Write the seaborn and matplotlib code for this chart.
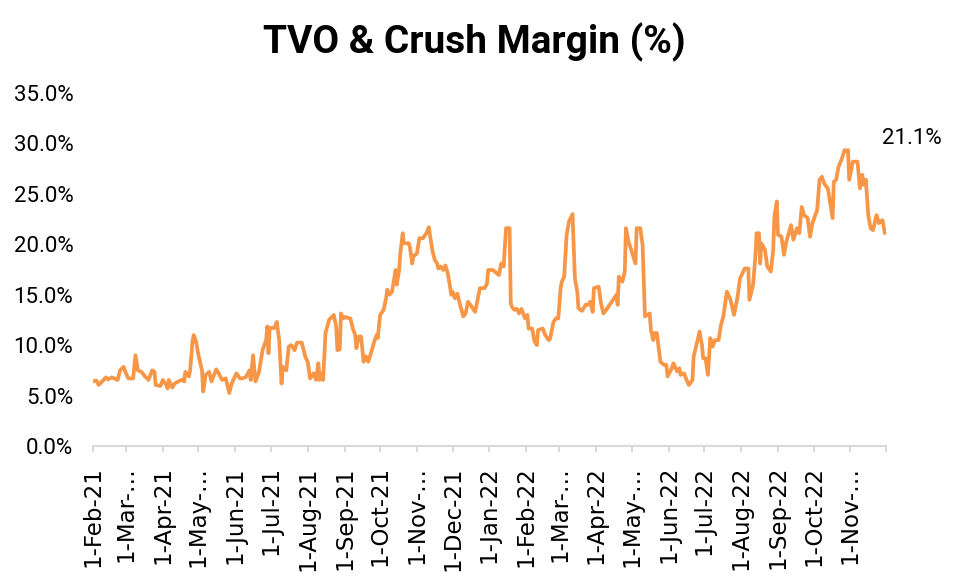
import matplotlib
matplotlib.use("Agg")
import matplotlib.pyplot as plt
import pandas as pd
import seaborn as sns

# TVO & crush margin, % (observation dates and values)
dates = [
    "2021-02-01", "2021-02-04", "2021-02-06", "2021-02-09", "2021-02-12", "2021-02-14", "2021-02-17",
    "2021-02-19", "2021-02-22", "2021-02-24", "2021-02-27", "2021-03-01", "2021-03-03", "2021-03-07",
    "2021-03-09", "2021-03-11", "2021-03-14", "2021-03-17", "2021-03-20", "2021-03-23", "2021-03-25",
    "2021-03-26", "2021-03-30", "2021-04-01", "2021-04-04", "2021-04-05", "2021-04-06", "2021-04-09",
    "2021-04-11", "2021-04-15", "2021-04-18", "2021-04-19", "2021-04-20", "2021-04-23", "2021-04-24",
    "2021-04-26", "2021-04-27", "2021-04-29", "2021-05-01", "2021-05-04", "2021-05-05", "2021-05-07",
    "2021-05-10", "2021-05-12", "2021-05-16", "2021-05-18", "2021-05-21", "2021-05-24", "2021-05-27",
    "2021-05-29", "2021-06-02", "2021-06-05", "2021-06-07", "2021-06-10", "2021-06-13", "2021-06-14",
    "2021-06-16", "2021-06-18", "2021-06-21", "2021-06-24", "2021-06-27", "2021-06-28", "2021-06-29",
    "2021-06-30", "2021-07-04", "2021-07-06", "2021-07-08", "2021-07-10", "2021-07-11", "2021-07-14",
    "2021-07-16", "2021-07-18", "2021-07-21", "2021-07-23", "2021-07-27", "2021-07-30", "2021-08-01",
    "2021-08-03", "2021-08-06", "2021-08-08", "2021-08-10", "2021-08-11", "2021-08-13", "2021-08-14",
    "2021-08-16", "2021-08-19", "2021-08-23", "2021-08-25", "2021-08-26", "2021-08-28", "2021-08-29",
    "2021-08-31", "2021-09-02", "2021-09-05", "2021-09-06", "2021-09-08", "2021-09-10", "2021-09-11",
    "2021-09-13", "2021-09-15", "2021-09-17", "2021-09-19", "2021-09-21", "2021-09-24", "2021-09-26",
    "2021-09-28", "2021-09-29", "2021-10-01", "2021-10-04", "2021-10-06", "2021-10-07", "2021-10-09",
    "2021-10-11", "2021-10-14", "2021-10-15", "2021-10-17", "2021-10-18", "2021-10-20", "2021-10-21",
    "2021-10-25", "2021-10-26", "2021-10-28", "2021-10-29", "2021-11-01", "2021-11-03", "2021-11-06",
    "2021-11-09", "2021-11-11", "2021-11-12", "2021-11-14", "2021-11-16", "2021-11-18", "2021-11-19",
    "2021-11-21", "2021-11-23", "2021-11-25", "2021-11-27", "2021-11-30", "2021-12-01", "2021-12-03",
    "2021-12-05", "2021-12-07", "2021-12-10", "2021-12-12", "2021-12-14", "2021-12-16", "2021-12-20",
    "2021-12-22", "2021-12-24", "2021-12-28", "2021-12-30", "2021-12-31", "2022-01-04", "2022-01-09",
    "2022-01-11", "2022-01-13", "2022-01-15", "2022-01-18", "2022-01-19", "2022-01-20", "2022-01-22",
    "2022-01-24", "2022-01-26", "2022-01-28", "2022-01-31", "2022-02-02", "2022-02-03", "2022-02-06",
    "2022-02-08", "2022-02-10", "2022-02-11", "2022-02-15", "2022-02-17", "2022-02-20", "2022-02-21",
    "2022-02-24", "2022-02-26", "2022-02-28", "2022-03-02", "2022-03-03", "2022-03-05", "2022-03-07",
    "2022-03-09", "2022-03-12", "2022-03-14", "2022-03-16", "2022-03-17", "2022-03-20", "2022-03-23",
    "2022-03-25", "2022-03-27", "2022-03-29", "2022-03-30", "2022-04-03", "2022-04-05", "2022-04-07",
    "2022-04-10", "2022-04-14", "2022-04-18", "2022-04-19", "2022-04-20", "2022-04-23", "2022-04-25",
    "2022-04-26", "2022-04-28", "2022-04-30", "2022-05-04", "2022-05-05", "2022-05-08", "2022-05-10",
    "2022-05-12", "2022-05-14", "2022-05-16", "2022-05-17", "2022-05-19", "2022-05-20", "2022-05-22",
    "2022-05-25", "2022-05-28", "2022-05-30", "2022-05-31", "2022-06-03", "2022-06-05", "2022-06-08",
    "2022-06-10", "2022-06-11", "2022-06-14", "2022-06-16", "2022-06-18", "2022-06-21", "2022-06-22",
    "2022-06-24", "2022-06-27", "2022-06-29", "2022-06-30", "2022-07-02", "2022-07-04", "2022-07-06",
    "2022-07-08", "2022-07-10", "2022-07-13", "2022-07-15", "2022-07-17", "2022-07-20", "2022-07-23",
    "2022-07-26", "2022-07-29", "2022-07-31", "2022-08-04", "2022-08-07", "2022-08-08", "2022-08-11",
    "2022-08-13", "2022-08-14", "2022-08-16", "2022-08-17", "2022-08-18", "2022-08-21", "2022-08-23",
    "2022-08-26", "2022-08-28", "2022-08-29", "2022-08-31", "2022-09-01", "2022-09-04", "2022-09-06",
    "2022-09-08", "2022-09-12", "2022-09-14", "2022-09-17", "2022-09-19", "2022-09-21", "2022-09-23",
    "2022-09-26", "2022-09-28", "2022-09-30", "2022-10-04", "2022-10-06", "2022-10-08", "2022-10-10",
    "2022-10-13", "2022-10-15", "2022-10-17", "2022-10-18", "2022-10-20", "2022-10-22", "2022-10-25",
    "2022-10-27", "2022-10-29", "2022-10-30", "2022-10-31", "2022-11-03", "2022-11-06", "2022-11-07",
    "2022-11-09", "2022-11-11", "2022-11-12", "2022-11-14", "2022-11-16", "2022-11-18", "2022-11-20",
    "2022-11-23", "2022-11-25", "2022-11-28", "2022-11-30",
]

margin_pct = [
    6.4, 6.5, 6.05, 6.4, 6.8, 6.6, 6.8,
    6.7, 6.55, 7.5, 7.85, 7.2, 6.7, 6.7,
    9.0, 7.5, 7.35, 6.9, 6.55, 7.5, 7.35,
    6.05, 5.95, 6.55, 6.05, 5.7, 6.55, 5.8,
    6.2, 6.45, 6.6, 6.4, 7.35, 6.9, 7.5,
    10.35, 11.0, 10.35, 9.0, 7.5, 5.4, 7.05,
    7.35, 6.4, 7.6, 7.2, 6.55, 6.7, 5.25,
    6.2, 7.2, 6.7, 6.7, 6.85, 7.5, 6.55,
    9.0, 6.4, 7.35, 9.5, 10.5, 11.85, 9.2,
    11.7, 11.7, 12.3, 10.5, 6.2, 7.85, 7.5,
    9.85, 10.0, 9.5, 10.25, 10.25, 8.85, 8.35,
    6.7, 7.2, 6.55, 8.2, 6.55, 7.2, 6.55,
    11.2, 12.5, 13.0, 11.85, 9.5, 9.6, 13.15,
    12.65, 12.8, 12.65, 12.65, 11.65, 11.0, 9.7,
    10.85, 10.85, 8.35, 8.9, 8.35, 9.5, 10.35,
    11.0, 10.7, 13.0, 13.5, 14.65, 15.5, 15.0,
    15.3, 17.45, 16.0, 17.45, 19.1, 21.1, 20.1,
    20.1, 19.8, 18.1, 18.8, 19.1, 20.6, 20.6,
    21.1, 21.7, 20.9, 19.4, 18.45, 18.1, 17.6,
    17.8, 17.45, 17.9, 17.1, 15.0, 15.3, 14.65,
    15.1, 14.15, 12.85, 13.15, 14.3, 14.0, 13.3,
    14.5, 15.65, 15.65, 16.1, 17.45, 17.45, 16.95,
    18.1, 17.8, 21.6, 21.6, 14.15, 13.8, 13.5,
    13.6, 13.15, 13.6, 12.65, 13.0, 11.65, 11.65,
    10.35, 10.0, 11.5, 11.65, 11.0, 10.5, 10.6,
    12.3, 12.65, 12.65, 15.65, 16.3, 16.8, 20.9,
    22.25, 23.0, 16.6, 15.3, 13.65, 13.4, 14.0,
    14.0, 14.3, 13.3, 15.65, 15.8, 14.15, 13.15,
    13.6, 14.3, 15.0, 14.0, 16.8, 16.3, 17.3,
    21.6, 20.3, 19.6, 18.1, 21.6, 21.6, 19.95,
    12.85, 13.0, 13.15, 11.5, 10.5, 11.2, 11.2,
    8.35, 8.05, 8.05, 6.9, 7.55, 8.2, 7.4,
    7.7, 7.05, 7.2, 6.55, 6.05, 6.55, 8.85,
    9.85, 11.35, 10.0, 8.7, 8.7, 7.05, 10.7,
    9.85, 10.5, 10.5, 12.0, 12.85, 15.3, 14.5,
    13.0, 14.8, 16.6, 17.6, 17.6, 14.5, 16.0,
    18.8, 21.1, 21.1, 18.1, 20.1, 19.45, 17.8,
    17.3, 19.45, 22.75, 24.25, 20.95, 20.75, 18.95,
    20.25, 21.9, 20.45, 21.6, 21.1, 23.7, 22.9,
    22.6, 20.75, 22.1, 23.4, 26.4, 26.7, 26.0,
    25.55, 24.1, 22.6, 26.2, 26.4, 27.7, 28.55,
    29.35, 29.2, 29.35, 26.4, 28.2, 28.2, 28.2,
    25.55, 26.9, 25.9, 26.4, 22.9, 21.6, 21.4,
    22.9, 22.1, 22.4, 21.1,
]

# Axis ticks and labels
y_ticks = [0, 5, 10, 15, 20, 25, 30, 35]
x_tick_dates = pd.date_range("2021-02-01", "2022-12-01", freq="MS")
x_tick_labels = [
    "1-Feb-21", "1-Mar-…", "1-Apr-21", "1-May-…", "1-Jun-21", "1-Jul-21", "1-Aug-21",
    "1-Sep-21", "1-Oct-21", "1-Nov-…", "1-Dec-21", "1-Jan-22", "1-Feb-22", "1-Mar-…",
    "1-Apr-22", "1-May-…", "1-Jun-22", "1-Jul-22", "1-Aug-22", "1-Sep-22", "1-Oct-22",
    "1-Nov-…", "",
]
title = "TVO & Crush Margin (%)"

sns.set_theme(style="white")
plt.rcParams["font.family"] = ["Roboto", "DejaVu Sans"]

df = pd.DataFrame({"date": pd.to_datetime(dates), "margin": margin_pct})

fig = plt.figure(figsize=(9.61, 5.78), dpi=100)
ax = fig.add_axes([0.0965, 0.2284, 0.8255, 0.6106])

sns.lineplot(data=df, x="date", y="margin", color="#F79646", linewidth=2.7, ax=ax)

ax.set_xlim(pd.Timestamp("2021-02-01"), pd.Timestamp("2022-12-01"))
ax.set_ylim(0, 35)
ax.set_xlabel("")
ax.set_ylabel("")

ax.set_yticks(y_ticks)
ax.set_yticklabels([f"{t:.1f}%" for t in y_ticks], fontsize=16, color="#000000")
ax.set_xticks(x_tick_dates)
ax.set_xticklabels(x_tick_labels, rotation=90, fontsize=16.5, color="#000000",
                   family=["DejaVu Sans"])

ax.tick_params(axis="y", length=0, pad=14)
ax.tick_params(axis="x", length=4.5, width=1.5, color="#d9d9d9", pad=10, bottom=True)

for side in ("left", "top", "right"):
    ax.spines[side].set_visible(False)
ax.spines["bottom"].set_color("#d9d9d9")
ax.spines["bottom"].set_linewidth(1.5)
ax.grid(False)

# Latest value label
last_date = df["date"].iloc[-1]
last_val = df["margin"].iloc[-1]
ax.annotate(f"{last_val:.1f}%", xy=(last_date, last_val), xytext=(912, 439),
            textcoords="figure pixels", ha="center", va="center", fontsize=16,
            color="#000000")

fig.text(474 / 961, 1 - 42 / 578, title, ha="center", va="center",
         fontsize=28, fontweight="bold", color="#000000")

fig.savefig("out.png", dpi=100)
